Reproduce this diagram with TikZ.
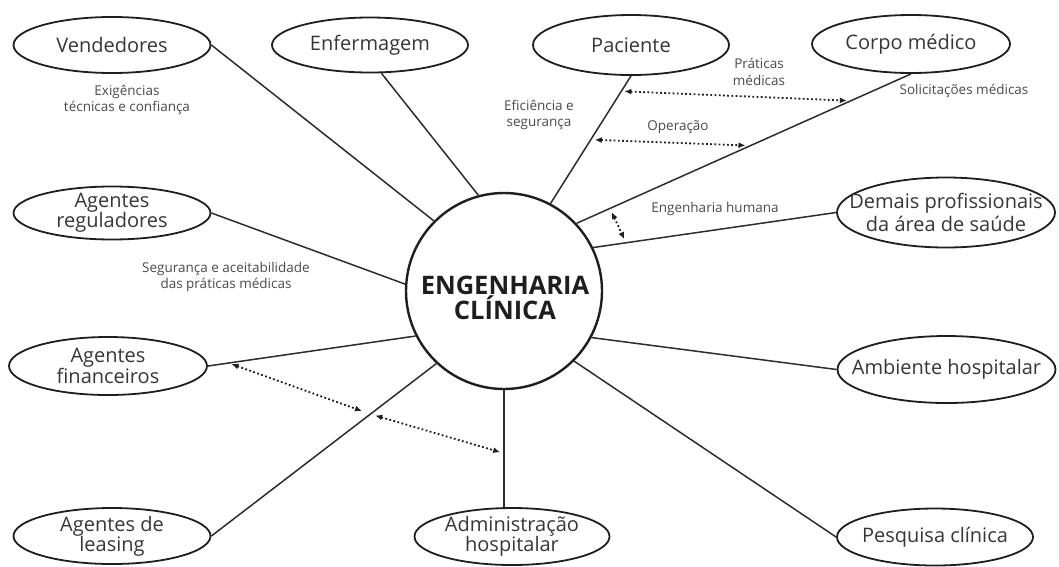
\documentclass[tikz,border=0pt]{standalone}
\usepackage{fontspec}
\setmainfont{Open Sans}
\usetikzlibrary{shapes.geometric,arrows.meta,calc}
\definecolor{ink}{HTML}{1E1E1E}
\definecolor{txt}{HTML}{363636}
\definecolor{lin}{HTML}{2C2C2C}
\definecolor{stxt}{HTML}{4A4A4A}
\begin{document}
\begin{tikzpicture}[x=1pt,y=-1pt,
  oval/.style={draw=ink,line width=1.8pt,ellipse,inner sep=0pt},
  lbl/.style={text=txt,font=\fontsize{20}{20}\selectfont,align=center,inner sep=0pt},
  small/.style={text=stxt,font=\fontsize{13.5}{16.5}\selectfont,align=center,inner sep=0pt},
  conn/.style={draw=lin,line width=1.5pt},
  dots/.style={draw=ink,line width=1.8pt,dash pattern=on 1.8pt off 2.4pt,
    {Latex[length=7pt,width=6pt]}-{Latex[length=7pt,width=6pt]}}
]
\useasboundingbox (0,0) rectangle (1059,566);

% central circle
\node[circle,draw=ink,line width=2.4pt,minimum size=196pt,inner sep=0pt] (c) at (504,291) {};
\node[text=ink,font=\bfseries\fontsize{25.5}{25}\selectfont,align=center,inner sep=0pt] (ct) at (505,298) {ENGENHARIA\\CLÍNICA};

% ellipses
\node[oval,minimum width=197pt,minimum height=56pt] (vend) at (112,45) {};
\node[oval,minimum width=196pt,minimum height=55pt] (enf) at (370,45) {};
\node[oval,minimum width=196pt,minimum height=60pt] (pac) at (631,45) {};
\node[oval,minimum width=198pt,minimum height=58pt] (corpo) at (911,44) {};
\node[oval,minimum width=218pt,minimum height=70pt] (dem) at (946,212.5) {};
\node[oval,minimum width=197pt,minimum height=53pt] (reg) at (112,213) {};
\node[oval,minimum width=198pt,minimum height=58pt] (fin) at (108,366) {};
\node[oval,minimum width=197pt,minimum height=56pt] (leas) at (112,536) {};
\node[oval,minimum width=195pt,minimum height=57pt] (adm) at (512,536.5) {};
\node[oval,minimum width=218pt,minimum height=67pt] (amb) at (946.5,369.5) {};
\node[oval,minimum width=196pt,minimum height=57pt] (pes) at (935,537) {};

% ellipse texts
\node[lbl] (tvend) at (vend) {Vendedores};
\node[lbl] (tenf) at (enf) {Enfermagem};
\node[lbl] (tpac) at (pac) {Paciente};
\node[lbl] (tcorpo) at (corpo) {Corpo médico};
\node[lbl,font=\fontsize{20}{22.5}\selectfont] (tdem) at (dem) {Demais profissionais\\da área de saúde};
\node[lbl] (treg) at (reg) {Agentes\\reguladores};
\node[lbl] (tfin) at (fin) {Agentes\\financeiros};
\node[lbl] (tleas) at (leas) {Agentes de\\leasing};
\node[lbl] (tadm) at (adm) {Administração\\hospitalar};
\node[lbl] (tamb) at (amb) {Ambiente hospitalar};
\node[lbl] (tpes) at (pes) {Pesquisa clínica};

% connectors
\draw[conn] (vend.east) -- (c.135);
\draw[conn] (enf.-68) -- (c.105.7);
\draw[conn] (pac.south) -- (c.62.4);
\draw[conn] (corpo.south) -- (c.43.8);
\draw[conn] (dem.west) -- (c.26);
\draw[conn] (reg.east) -- (c.176);
\draw[conn] (fin.east) -- (c.207.3);
\draw[conn] (leas.east) -- (c.227);
\draw[conn] (c.south) -- (c.south |- adm.north);
\draw[conn] (amb.west) -- (c.332.4);
\draw[conn] (pes.west) -- (c.315);

% dotted arrows
\coordinate (p1) at ($(pac.south)!0.12!(c.62.4)$);
\coordinate (q1) at ($(corpo.south)!0.18!(c.43.8)$);
\draw[dots,shorten <=3pt,shorten >=4pt] (p1) -- (q1);
\coordinate (p2) at ($(pac.south)!0.5!(c.62.4)$);
\coordinate (q2) at ($(corpo.south)!0.48!(c.43.8)$);
\draw[dots,shorten <=4pt,shorten >=5pt] (p2) -- (q2);
\coordinate (q3) at ($(corpo.south)!0.9!(c.43.8)$);
\coordinate (d3) at ($(dem.west)!0.865!(c.26)$);
\draw[dots,shorten <=4pt,shorten >=4pt] (q3) -- (d3);
\coordinate (f1) at ($(fin.east)!0.1!(c.207.3)$);
\coordinate (b1) at ($(leas.east)!0.707!(c.227)$);
\coordinate (a1) at ($(c.south)!0.54!(c.south |- adm.north)$);
\draw[dots,shorten <=3pt,shorten >=9pt] (f1) -- (b1);
\draw[dots,shorten <=5pt,shorten >=4pt] (b1) -- (a1);

% small labels
\node[small] (l1) at (127,100) {Exigências\\técnicas e confiança};
\node[small] (l2) at (226,277) {Segurança e aceitabilidade\\das práticas médicas};
\node[small] (l3) at (539,115) {Eficiência e\\segurança};
\node[small] (l4) at (759,72) {Práticas\\médicas};
\node[small] (l5) at (678,127) {Operação};
\node[small] (l6) at (964,91) {Solicitações médicas};
\node[small] (l7) at (715,209) {Engenharia humana};
\end{tikzpicture}
\end{document}
